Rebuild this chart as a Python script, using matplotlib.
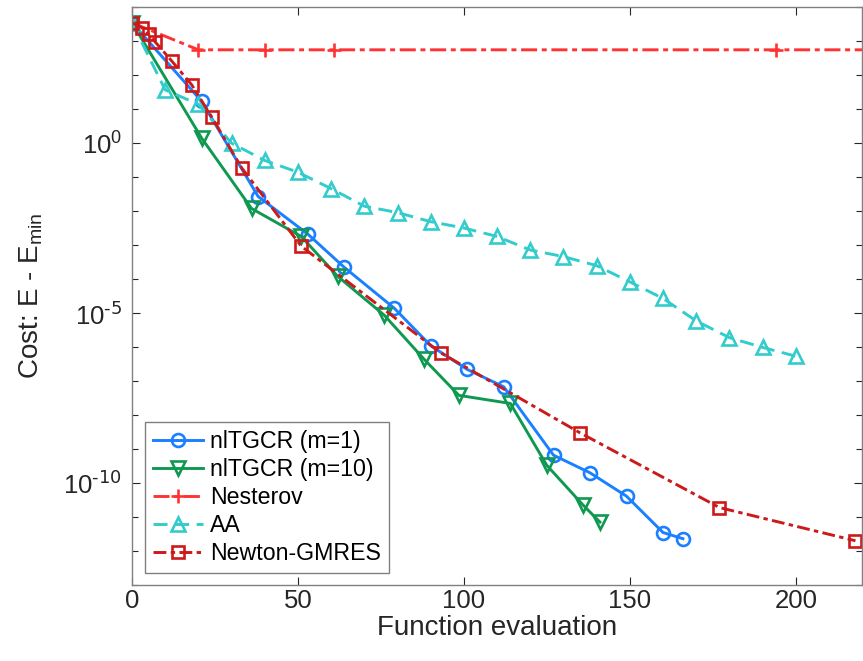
import matplotlib
matplotlib.use("Agg")
import matplotlib.pyplot as plt
import numpy as np

plt.rcParams["font.family"] = ["Liberation Sans", "DejaVu Sans"]
plt.rcParams["mathtext.default"] = "regular"

# nlTGCR (m=1)
x_m1 = [0, 21, 38, 53, 64, 79, 90, 101, 112, 127, 138, 149, 160, 166]
y_m1 = [3.5e3, 1.7e1, 2.7e-2, 2.1e-3, 2.2e-4, 1.4e-5, 1.1e-6, 2.2e-7,
        6.8e-8, 6.6e-10, 2.0e-10, 4.1e-11, 3.5e-12, 2.3e-12]

# nlTGCR (m=10)
x_m10 = [0, 21, 36, 51, 62, 76, 88, 98.5, 114, 125, 136, 141]
y_m10 = [3.5e3, 1.4, 1.2e-2, 1.8e-3, 1.2e-4, 8.7e-6, 4.4e-7, 3.8e-8,
         2.2e-8, 3.3e-10, 2.2e-11, 7.1e-12]

# Nesterov
x_nest = [0, 20, 40, 61, 194, 230]
y_nest = [3.5e3, 5.6e2, 5.6e2, 5.6e2, 5.6e2, 5.6e2]

# Anderson acceleration
x_aa = [0, 10, 20, 30, 40, 50, 60, 70, 80, 90, 100, 110, 120, 130, 140,
        150, 160, 170, 180, 190, 200]
y_aa = [3.5e3, 37, 14, 1.0, 0.31, 0.14, 0.046, 0.014, 9.1e-3, 4.9e-3,
        3.2e-3, 1.8e-3, 7.2e-4, 4.6e-4, 2.5e-4, 8.3e-5, 2.7e-5, 5.9e-6,
        1.9e-6, 9.8e-7, 5.4e-7]

# Newton-GMRES
x_ng = [0, 3, 5, 7, 12, 18, 24, 33, 51, 93, 135, 177, 218]
y_ng = [3.5e3, 2.5e3, 1.6e3, 9.5e2, 2.6e2, 52, 5.9, 0.19, 9.3e-4, 6.8e-7,
        3.0e-9, 1.9e-11, 2.0e-12]

ytick_vals = [1e-10, 1e-5, 1e0]
ytick_labels = [r"$10^{\text{-10}}$", r"$10^{\text{-5}}$", r"$10^{0}$"]

BLUE = "#1a80ff"
GREEN = "#0f9950"
RED = "#ff3333"
CYAN = "#33cccc"
DRED = "#cc1a1a"
AXC = "#808080"
INK = "#262626"

fig = plt.figure(figsize=(8.63, 6.61), dpi=100)
ax = fig.add_axes([0.153, 0.115, 0.846, 0.874])

lw, ms, mew = 2.1, 9.3, 1.9
ax.plot(x_m1, y_m1, "-", marker="o", color=BLUE, lw=lw, ms=ms, mew=mew,
        mfc="none", label="nlTGCR (m=1)")
ax.plot(x_m10, y_m10, "-", marker="v", color=GREEN, lw=lw, ms=ms + 0.7,
        mew=mew, mfc="none", label="nlTGCR (m=10)")
ax.plot(x_nest, y_nest, marker="+", color=RED, lw=lw, ms=ms + 1, mew=mew,
        dashes=(5.5, 1.6, 1.7, 1.6), label="Nesterov")
ax.plot(x_aa, y_aa, marker="^", color=CYAN, lw=lw, ms=ms + 0.7, mew=mew,
        mfc="none", dashes=(4.8, 2.6), label="AA")
ax.plot(x_ng, y_ng, marker="s", color=DRED, lw=lw, ms=ms, mew=mew,
        mfc="none", dashes=(4.4, 1.5, 1.5, 1.5), label="Newton-GMRES")

ax.set_yscale("log")
ax.set_xlim(0, 220)
ax.set_ylim(1e-13, 1e4)
ax.set_xticks([0, 50, 100, 150, 200])
ax.set_yticks(ytick_vals)
ax.set_yticklabels(ytick_labels)
ax.set_yticks(10.0 ** np.arange(-13, 5), minor=True)
ax.yaxis.set_minor_formatter(matplotlib.ticker.NullFormatter())
ax.tick_params(which="both", direction="in", top=True, right=True,
               color=INK, labelsize=18.5, labelcolor=INK, width=0.8)
ax.tick_params(which="major", length=6)
ax.tick_params(axis="x", which="major", pad=3)
ax.tick_params(axis="y", which="major", pad=7)
ax.tick_params(which="minor", length=4)
for sp in ax.spines.values():
    sp.set_color(AXC)
    sp.set_linewidth(1.0)

ax.set_xlabel("Function evaluation", fontsize=20, color=INK, labelpad=1.5)
ax.set_ylabel(r"Cost: E - E$_{min}$", fontsize=20, color=INK, labelpad=13)

leg = ax.legend(loc="lower left", bbox_to_anchor=(0.018, 0.02),
                fontsize=16.7, handlelength=2.15, handletextpad=0.3,
                labelspacing=0.22, borderpad=0.35, borderaxespad=0,
                fancybox=False, framealpha=1, edgecolor=AXC)
leg.get_frame().set_linewidth(1.0)

fig.savefig("out.png", dpi=100)
